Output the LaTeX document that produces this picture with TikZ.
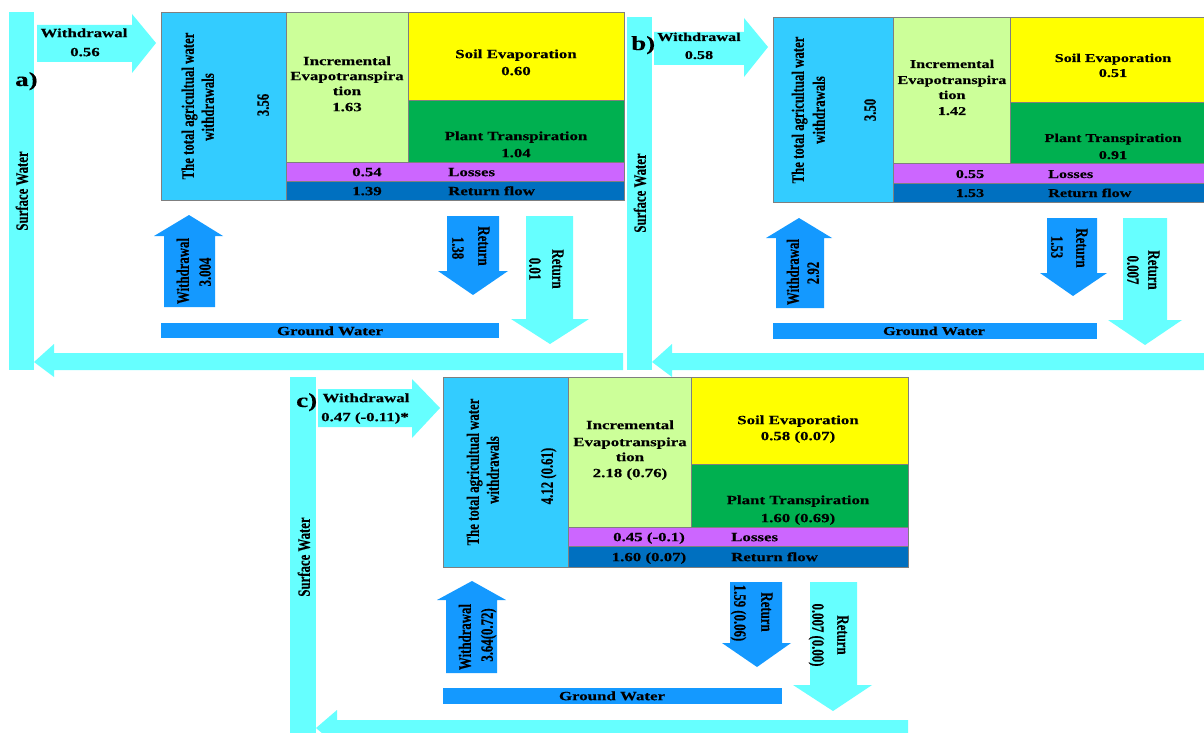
\documentclass[tikz,border=0pt]{standalone}
\usepackage{fontspec}
\newfontfamily\hfont[FakeStretch=1.35,FakeBold=0.3]{Liberation Serif}
\newfontfamily\vfont[FakeStretch=0.74,FakeBold=0.2]{Liberation Serif}
\definecolor{cy}{HTML}{66FFFF}
\definecolor{bb}{HTML}{33CCFF}
\definecolor{lg}{HTML}{CCFF99}
\definecolor{ye}{HTML}{FFFF00}
\definecolor{gr}{HTML}{00B050}
\definecolor{pu}{HTML}{CC66FF}
\definecolor{db}{HTML}{0070C0}
\definecolor{ab}{HTML}{1499FF}
\definecolor{edge}{HTML}{7F7F7F}
\begin{document}
\begin{tikzpicture}[x=1pt,y=-1pt,
  hl/.style={inner sep=0pt, font=\hfont\bfseries\fontsize{12.5}{15}\selectfont, text height=8.3pt, text depth=0pt},
  hls/.style={inner sep=0pt, font=\hfont\bfseries\fontsize{12}{15}\selectfont, text height=8pt, text depth=0pt},
  vtext/.style={inner sep=0pt, font=\vfont\bfseries\fontsize{17.3}{20}\selectfont, text height=11.5pt, text depth=0pt},
  tag/.style={inner sep=0pt, anchor=base west, font=\hfont\bfseries\fontsize{20}{22}\selectfont},
  cell/.style={draw=edge, line width=0.7pt},
  cyfill/.style={fill=cy},
  abfill/.style={fill=ab}]
\useasboundingbox (0,0) rectangle (1204,733);
\fill[white] (0,0) rectangle (1204,733);
\clip (0,0) rectangle (1204,733);

% ================= Panel a =================
\fill[cyfill] (9,12) rectangle (34,370);
\node[vtext, rotate=90] (sa) at (22,191) {Surface Water};
\fill[cyfill] (34,362) -- (54,344) -- (54,353) -- (623,353) -- (623,370) -- (54,370) -- (54,377) -- cycle;
\fill[cyfill] (37,25) -- (132,25) -- (132,14) -- (156,43) -- (132,73) -- (132,62) -- (37,62) -- cycle;
\node[hl] (wa1) at (84,33) {Withdrawal};
\node[hl] (wa2) at (85,52) {0.56};
\node[tag] (taga) at (15,86) {a)};
\filldraw[cell, fill=bb] (161,12) rectangle (286,200);
\filldraw[cell, fill=lg] (286,12) rectangle (408,162);
\filldraw[cell, fill=ye] (408,12) rectangle (624,100);
\filldraw[cell, fill=gr] (408,100) rectangle (624,162);
\filldraw[cell, fill=pu] (286,162) rectangle (624,181);
\filldraw[cell, fill=db] (286,181) rectangle (624,200);
\node[vtext, rotate=90] (ta1) at (188,106) {The total agricultual water};
\node[vtext, rotate=90] (ta2) at (208,107) {withdrawals};
\node[vtext, rotate=90] (ta3) at (263,105) {3.56};
\node[hl] (ia1) at (347,61) {Incremental};
\node[hl] (ia2) at (347,76) {Evapotranspira};
\node[hl] (ia3) at (347,91) {tion};
\node[hl] (ia4) at (347,107) {1.63};
\node[hl] (sa1) at (516,54) {Soil Evaporation};
\node[hl] (sa2) at (516,71) {0.60};
\node[hl] (pa1) at (516,136) {Plant Transpiration};
\node[hl] (pa2) at (516,153) {1.04};
\node[hl] (la1) at (367,172) {0.54};
\node[hl, anchor=west] (la2) at (448,172) {Losses};
\node[hl] (ra1) at (367,191) {1.39};
\node[hl, anchor=west] (ra2) at (448,191) {Return flow};
\fill[abfill] (164,307) -- (164,236) -- (154,236) -- (189,215) -- (223,236) -- (215,236) -- (215,307) -- cycle;
\node[vtext, rotate=90] (ua1) at (183,271) {Withdrawal};
\node[vtext, rotate=90] (ua2) at (205,272) {3.004};
\fill[abfill] (447,216) -- (499,216) -- (499,271) -- (508,271) -- (473,295) -- (438,271) -- (447,271) -- cycle;
\node[vtext, rotate=-90] (da1) at (484,246) {Return};
\node[vtext, rotate=-90] (da2) at (458,248) {1.38};
\fill[cyfill] (526,216) -- (573,216) -- (573,319) -- (589,319) -- (550,344) -- (511,319) -- (526,319) -- cycle;
\node[vtext, rotate=-90] (ea1) at (558,269) {Return};
\node[vtext, rotate=-90] (ea2) at (535,269) {0.01};
\fill[abfill] (161,323) rectangle (499,338);
\node[hl] (ga) at (330,331) {Ground Water};

% ================= Panel b =================
\fill[cyfill] (627,17) rectangle (652,370);
\node[vtext, rotate=90] (sb) at (640,193) {Surface Water};
\fill[cyfill] (652,362) -- (672,344) -- (672,353) -- (1204,353) -- (1204,370) -- (672,370) -- (672,377) -- cycle;
\fill[cyfill] (654,32) -- (744,32) -- (744,18) -- (768,47) -- (744,77) -- (744,65) -- (654,65) -- cycle;
\node[hls] (wb1) at (699,37) {Withdrawal};
\node[hls] (wb2) at (699,55) {0.58};
\node[tag] (tagb) at (631,50) {b)};
\filldraw[cell, fill=bb] (773,17) rectangle (893,202);
\filldraw[cell, fill=lg] (893,17) rectangle (1010,163);
\filldraw[cell, fill=ye] (1010,17) rectangle (1212,102);
\filldraw[cell, fill=gr] (1010,102) rectangle (1212,163);
\filldraw[cell, fill=pu] (893,163) rectangle (1212,183);
\filldraw[cell, fill=db] (893,183) rectangle (1212,202);
\node[vtext, rotate=90] (tb1) at (798,110) {The total agricultual water};
\node[vtext, rotate=90] (tb2) at (819,110) {withdrawals};
\node[vtext, rotate=90] (tb3) at (870,110) {3.50};
\node[hls] (ib1) at (952,64) {Incremental};
\node[hls] (ib2) at (952,80) {Evapotranspira};
\node[hls] (ib3) at (952,95) {tion};
\node[hls] (ib4) at (952,111) {1.42};
\node[hls] (sb1) at (1113,58) {Soil Evaporation};
\node[hls] (sb2) at (1113,73) {0.51};
\node[hls] (pb1) at (1113,138) {Plant Transpiration};
\node[hls] (pb2) at (1113,155) {0.91};
\node[hls] (lb1) at (970,174) {0.55};
\node[hls, anchor=west] (lb2) at (1048,174) {Losses};
\node[hls] (rb1) at (970,193) {1.53};
\node[hls, anchor=west] (rb2) at (1048,193) {Return flow};
\fill[abfill] (776,308) -- (776,238) -- (766,238) -- (799,218) -- (832,238) -- (824,238) -- (824,308) -- cycle;
\node[vtext, rotate=90] (ub1) at (793,272) {Withdrawal};
\node[vtext, rotate=90] (ub2) at (813,273) {2.92};
\fill[abfill] (1047,218) -- (1097,218) -- (1097,273) -- (1107,273) -- (1073,296) -- (1040,273) -- (1047,273) -- cycle;
\node[vtext, rotate=-90] (db1) at (1082,248) {Return};
\node[vtext, rotate=-90] (db2) at (1057,247) {1.53};
\fill[cyfill] (1123,218) -- (1167,218) -- (1167,320) -- (1182,320) -- (1145,345) -- (1108,320) -- (1123,320) -- cycle;
\node[vtext, rotate=-90] (eb1) at (1154,270) {Return};
\node[vtext, rotate=-90] (eb2) at (1133,270) {0.007};
\fill[abfill] (773,323) rectangle (1097,339);
\node[hls] (gb) at (934,331) {Ground Water};

% ================= Panel c =================
\fill[cyfill] (290,377) rectangle (316,740);
\node[vtext, rotate=90] (sc) at (304,557) {Surface Water};
\fill[cyfill] (316,728) -- (337,710) -- (337,720) -- (908,720) -- (908,737) -- (337,737) -- (337,746) -- cycle;
\fill[cyfill] (318,389) -- (412,389) -- (412,379) -- (440,408) -- (412,438) -- (412,427) -- (318,427) -- cycle;
\node[hl] (wc1) at (366,398) {Withdrawal};
\node[hl] (wc2) at (365,417) {0.47 (-0.11)*};
\node[tag] (tagc) at (296,407) {c)};
\filldraw[cell, fill=bb] (443,377) rectangle (568,567);
\filldraw[cell, fill=lg] (568,377) rectangle (691,527);
\filldraw[cell, fill=ye] (691,377) rectangle (908,464);
\filldraw[cell, fill=gr] (691,464) rectangle (908,527);
\filldraw[cell, fill=pu] (568,527) rectangle (908,546);
\filldraw[cell, fill=db] (568,546) rectangle (908,567);
\node[vtext, rotate=90] (tc1) at (473,472) {The total agricultual water};
\node[vtext, rotate=90] (tc2) at (493,470) {withdrawals};
\node[vtext, rotate=90] (tc3) at (547,476) {4.12 (0.61)};
\node[hl] (ic1) at (630,425) {Incremental};
\node[hl] (ic2) at (630,442) {Evapotranspira};
\node[hl] (ic3) at (630,457) {tion};
\node[hl] (ic4) at (630,473) {2.18 (0.76)};
\node[hl] (scc1) at (798,420) {Soil Evaporation};
\node[hl] (scc2) at (798,436) {0.58 (0.07)};
\node[hl] (pc1) at (798,500) {Plant Transpiration};
\node[hl] (pc2) at (798,518) {1.60 (0.69)};
\node[hl] (lc1) at (649,537) {0.45 (-0.1)};
\node[hl, anchor=west] (lc2) at (731,537) {Losses};
\node[hl] (rc1) at (649,557) {1.60 (0.07)};
\node[hl, anchor=west] (rc2) at (731,557) {Return flow};
\fill[abfill] (446,673) -- (446,600) -- (437,600) -- (472,581) -- (506,600) -- (497,600) -- (497,673) -- cycle;
\node[vtext, rotate=90] (uc1) at (465,637) {Withdrawal};
\node[vtext, rotate=90] (uc2) at (487,635) {3.64(0.72)};
\fill[abfill] (730,582) -- (782,582) -- (782,643) -- (791,643) -- (757,667) -- (722,643) -- (730,643) -- cycle;
\node[vtext, rotate=-90] (dc1) at (767,612) {Return};
\node[vtext, rotate=-90] (dc2) at (740,613) {1.59 (0.06)};
\fill[cyfill] (810,582) -- (857,582) -- (857,685) -- (872,685) -- (833,711) -- (793,685) -- (810,685) -- cycle;
\node[vtext, rotate=-90] (ec1) at (843,635) {Return};
\node[vtext, rotate=-90] (ec2) at (818,635) {0.007 (0.00)};
\fill[abfill] (443,688) rectangle (782,704);
\node[hl] (gc) at (612,696) {Ground Water};
\end{tikzpicture}
\end{document}
